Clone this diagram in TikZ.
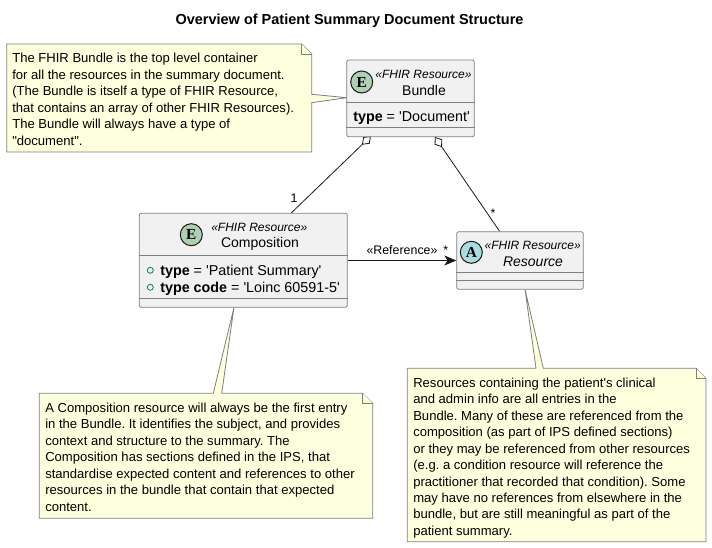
\documentclass[tikz,border=0pt]{standalone}
\usepackage{fontspec}
\setmainfont[Ligatures=TeXOff]{Liberation Sans}
\newfontfamily\badgefont{Liberation Serif}
\usetikzlibrary{calc,arrows.meta,backgrounds}
\definecolor{boxfill}{HTML}{F1F1F1}
\definecolor{notefill}{HTML}{FEFFDD}
\definecolor{edgegray}{HTML}{7F7F7F}
\definecolor{linedark}{HTML}{181818}
\definecolor{entitybadge}{HTML}{ADD1B2}
\definecolor{abstractbadge}{HTML}{A9DCDF}
\definecolor{fieldgreen}{HTML}{038048}
\newcommand{\px}{0.75pt}
\frenchspacing
\tikzset{
  classbox/.style={draw=edgegray, fill=boxfill, rounded corners=1.5pt, line width=0.6pt, inner sep=0pt},
  notebody/.style={draw=edgegray, fill=notefill, line width=0.6pt, line join=miter},
  notetext/.style={align=left, anchor=north west, inner sep=0pt, font=\fontsize{9.8pt}{12.35pt}\selectfont},
  badge/.style={circle, draw=linedark, line width=0.75pt, minimum size=16.5pt, inner sep=0pt, font=\badgefont\bfseries\fontsize{11.5pt}{11.5pt}\selectfont},
  stereo/.style={inner sep=0pt, font=\fontsize{9pt}{10pt}\selectfont\itshape},
  classname/.style={inner sep=0pt, font=\fontsize{10.5pt}{12pt}\selectfont},
  field/.style={inner sep=0pt, anchor=west, font=\fontsize{10.75pt}{12pt}\selectfont},
  edgelabel/.style={inner sep=0pt, font=\fontsize{9.3pt}{10pt}\selectfont},
  link/.style={draw=linedark, line width=0.6pt},
  sepline/.style={draw=edgegray, line width=0.6pt},
  fieldmark/.style={circle, draw=fieldgreen, line width=0.6pt, minimum size=4.5pt, inner sep=0pt},
  holdtip/.style={{Diamond[open,length=9.3pt,width=6.9pt,line width=0.6pt]}-}
}
\begin{document}
\begin{tikzpicture}[x=0.75pt,y=-0.75pt]
  \useasboundingbox (0,0) rectangle (712,548);
  \node[inner sep=0pt, font=\fontsize{10.87pt}{12pt}\selectfont\bfseries] (title) at (349.5,20.5) {Overview of Patient Summary Document Structure};
  % notes sit under the boxes
  \path[notebody] (6.7,44) -- (301.7,44) -- (311.7,54) -- (311.7,94.3) -- (346.7,97.7) -- (311.7,102.7) -- (311.7,152) -- (6.7,152) -- cycle;
  \draw[notebody] (301.7,44) -- (301.7,54) -- (311.7,54);
  \path[notebody] (39.3,393.3) -- (213.3,393.3) -- (234,307.3) -- (221.7,393.3) -- (362.7,393.3) -- (372.7,403.3) -- (372.7,518.3) -- (39.3,518.3) -- cycle;
  \draw[notebody] (362.7,393.3) -- (362.7,403.3) -- (372.7,403.3);
  \path[notebody] (407.3,368.3) -- (536,368.3) -- (525,289.3) -- (543.3,368.3) -- (696,368.3) -- (706,378.3) -- (706,541.7) -- (407.3,541.7) -- cycle;
  \draw[notebody] (696,368.3) -- (696,378.3) -- (706,378.3);
  \node[notetext] (bundlenote) at (12,53) {The FHIR Bundle is the top level container\\for all the resources in the summary document.\\(The Bundle is itself a type of FHIR Resource,\\that contains an array of other FHIR Resources).\\The Bundle will always have a type of\\"document".};
  \node[notetext] (compositionnote) at (45,402.5) {A Composition resource will always be the first entry\\in the Bundle. It identifies the subject, and provides\\context and structure to the summary. The\\Composition has sections defined in the IPS, that\\standardise expected content and references to other\\resources in the bundle that contain that expected\\content.};
  \node[notetext] (resourcenote) at (413,377.5) {Resources containing the patient's clinical\\and admin info are all entries in the\\Bundle. Many of these are referenced from the\\composition (as part of IPS defined sections)\\or they may be referenced from other resources\\(e.g. a condition resource will reference the\\practitioner that recorded that condition). Some\\may have no references from elsewhere in the\\bundle, but are still meaningful as part of the\\patient summary.};
  % bundle
  \node[classbox, minimum width=127.6*\px, minimum height=76.7*\px] (bundle) at (410.5,98.35) {};
  \draw[sepline] ($(bundle.north west)+(0,43)$) -- ($(bundle.north east)+(0,43)$);
  \draw[sepline] ($(bundle.north west)+(0,68)$) -- ($(bundle.north east)+(0,68)$);
  \node[badge, fill=entitybadge] (bundlebadge) at (361.7,82) {E};
  \node[stereo] (bundlestereo) at (423.5,74) {«FHIR Resource»};
  \node[classname] (bundlename) at (424,91) {Bundle};
  \node[field] (bundletype) at (353,118) {\textbf{type} = 'Document'};
  % composition
  \node[classbox, minimum width=208*\px, minimum height=94*\px] (composition) at (243.3,260.3) {};
  \draw[sepline] ($(composition.north west)+(0,42.7)$) -- ($(composition.north east)+(0,42.7)$);
  \draw[sepline] ($(composition.north west)+(0,85.7)$) -- ($(composition.north east)+(0,85.7)$);
  \node[badge, fill=entitybadge] (compositionbadge) at (191.3,234.7) {E};
  \node[stereo] (compositionstereo) at (259.3,227) {«FHIR Resource»};
  \node[classname] (compositionname) at (260,244) {Composition};
  \node[fieldmark] (typemark) at (150.3,270.3) {};
  \node[fieldmark] (codemark) at (150.3,287.3) {};
  \node[field] (typefield) at (160,271.5) {\textbf{type} = 'Patient Summary'};
  \node[field] (codefield) at (160,288.5) {\textbf{type code} = 'Loinc 60591-5'};
  % resource
  \node[classbox, minimum width=126.6*\px, minimum height=57.6*\px] (resource) at (520,260.5) {};
  \draw[sepline] ($(resource.north west)+(0,41.6)$) -- ($(resource.north east)+(0,41.6)$);
  \draw[sepline] ($(resource.north west)+(0,49.6)$) -- ($(resource.north east)+(0,49.6)$);
  \node[badge, fill=abstractbadge] (resourcebadge) at (471.3,252.3) {A};
  \node[stereo] (resourcestereo) at (532.7,245.5) {«FHIR Resource»};
  \node[classname, font=\fontsize{10.5pt}{12pt}\selectfont\itshape] (resourcename) at (533,261.5) {Resource};
  % connectors
  \coordinate (bundleleft) at ($(bundle.south west)+(24.6,-1)$);
  \coordinate (bundleright) at ($(bundle.south west)+(88.6,-0.2)$);
  \coordinate (compositiontop) at ($(composition.north west)+(152.4,0)$);
  \coordinate (resourcetop) at ($(resource.north west)+(43.3,0)$);
  \begin{scope}[on background layer]
    \draw[link, holdtip] (bundleleft) -- (compositiontop);
    \draw[link, holdtip] (bundleright) -- (resourcetop);
  \end{scope}
  \draw[link, -{Stealth[length=9pt,width=7.5pt,inset=2.5pt]}] (composition.east |- resource.west) -- (resource.west);
  \node[edgelabel] (onelabel) at (294,198) {1};
  \node[edgelabel] (manylabel) at (493,213) {*};
  \node[edgelabel] (reflabel) at (402,250) {«Reference»};
  \node[edgelabel] (refmany) at (445.7,250) {*};
\end{tikzpicture}
\end{document}
